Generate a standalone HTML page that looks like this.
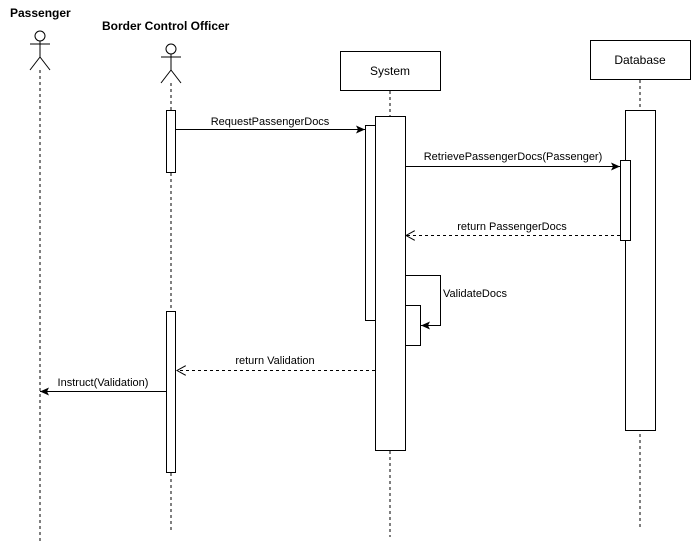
<!DOCTYPE html>
<html><head><style>
body{margin:0;background:#fff;}
svg text{font-family:"Liberation Sans",sans-serif;font-size:11px;fill:#000;}
</style></head><body>
<svg width="691" height="541" xmlns="http://www.w3.org/2000/svg">
<defs>
<marker id="a" markerWidth="10" markerHeight="8" refX="9" refY="4" orient="auto" markerUnits="userSpaceOnUse"><path d="M0,0 L9,4 L0,8 L2,4 Z" fill="#000"/></marker>
<marker id="o" markerWidth="10" markerHeight="10" refX="9" refY="5" orient="auto" markerUnits="userSpaceOnUse"><path d="M0,0 L9,5 L0,10" fill="none" stroke="#000"/></marker>
</defs>
<g stroke="#000" fill="none">
<!-- passenger -->
<circle cx="40" cy="36" r="5" fill="#fff"/>
<line x1="40" y1="41" x2="40" y2="57"/><line x1="30" y1="44" x2="50" y2="44"/>
<line x1="40" y1="57" x2="30" y2="70"/><line x1="40" y1="57" x2="50" y2="70"/>
<line x1="40" y1="70" x2="40" y2="541" stroke-dasharray="3,3"/>
<!-- officer -->
<circle cx="171" cy="49" r="5" fill="#fff"/>
<line x1="171" y1="54" x2="171" y2="70"/><line x1="161" y1="57" x2="181" y2="57"/>
<line x1="171" y1="70" x2="161" y2="83"/><line x1="171" y1="70" x2="181" y2="83"/>
<line x1="171" y1="83" x2="171" y2="530" stroke-dasharray="3,3"/>
<!-- system -->
<rect x="340.5" y="51.5" width="100" height="39" fill="#fff"/>
<line x1="390" y1="91" x2="390" y2="537" stroke-dasharray="3,3"/>
<!-- database -->
<rect x="590.5" y="40.5" width="100" height="39" fill="#fff"/>
<line x1="640" y1="80" x2="640" y2="528" stroke-dasharray="3,3"/>
<!-- activations -->
<rect x="166.5" y="110.5" width="9" height="62" fill="#fff"/>
<rect x="166.5" y="311.5" width="9" height="161" fill="#fff"/>
<rect x="375.5" y="116.5" width="30" height="334" fill="#fff"/>
<rect x="365.5" y="125.5" width="10" height="195" fill="#fff"/>
<rect x="405.5" y="305.5" width="15" height="40" fill="#fff"/>
<rect x="625.5" y="110.5" width="30" height="320" fill="#fff"/>
<rect x="620.5" y="160.5" width="10" height="80" fill="#fff"/>
<!-- messages -->
<line x1="176" y1="129.5" x2="365" y2="129.5" marker-end="url(#a)"/>
<line x1="405" y1="166.5" x2="620" y2="166.5" marker-end="url(#a)"/>
<line x1="620" y1="235.5" x2="406" y2="235.5" stroke-dasharray="3,3" marker-end="url(#o)"/>
<polyline points="405,275.5 440.5,275.5 440.5,325.5 421,325.5" marker-end="url(#a)"/>
<line x1="375" y1="370.5" x2="177" y2="370.5" stroke-dasharray="3,3" marker-end="url(#o)"/>
<line x1="166" y1="391.5" x2="40" y2="391.5" marker-end="url(#a)"/>
</g>
<text x="10" y="17" font-weight="bold" style="font-size:12px">Passenger</text>
<text x="102" y="30" font-weight="bold" style="font-size:12px">Border Control Officer</text>
<text x="390" y="75" text-anchor="middle" style="font-size:12px">System</text>
<text x="640" y="64" text-anchor="middle" style="font-size:12px">Database</text>
<text x="270" y="125" text-anchor="middle">RequestPassengerDocs</text>
<text x="513" y="160" text-anchor="middle">RetrievePassengerDocs(Passenger)</text>
<text x="512" y="230" text-anchor="middle">return PassengerDocs</text>
<text x="443" y="297">ValidateDocs</text>
<text x="275" y="364" text-anchor="middle">return Validation</text>
<text x="103" y="386" text-anchor="middle">Instruct(Validation)</text>
</svg>
</body></html>
